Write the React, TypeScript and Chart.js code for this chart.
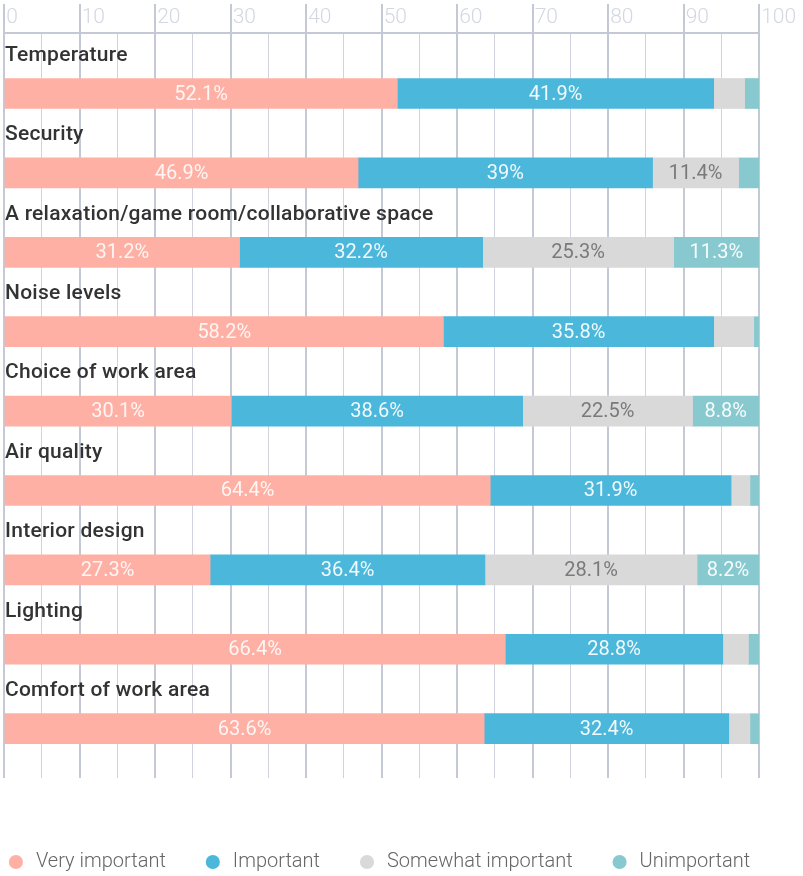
import { useEffect, useRef } from "react";
import { Chart, registerables } from "chart.js";

Chart.register(...registerables);

const categories = [
  "Temperature",
  "Security",
  "A relaxation/game room/collaborative space",
  "Noise levels",
  "Choice of work area",
  "Air quality",
  "Interior design",
  "Lighting",
  "Comfort of work area",
];
const seriesNames = ["Very important", "Important", "Somewhat important", "Unimportant"];
const veryImportant = [52.1, 46.9, 31.2, 58.2, 30.1, 64.4, 27.3, 66.4, 63.6];
const important = [41.9, 39, 32.2, 35.8, 38.6, 31.9, 36.4, 28.8, 32.4];
const somewhatImportant = [4.1, 11.4, 25.3, 5.3, 22.5, 2.5, 28.1, 3.4, 2.8];
const unimportant = [1.9, 2.7, 11.3, 0.7, 8.8, 1.2, 8.2, 1.4, 1.2];
const seriesColors = ["#FFB0A4", "#4BB7DB", "#D9D9D9", "#88C9CF"];
const labelColors = ["rgba(255,255,255,0.88)", "rgba(255,255,255,0.92)", "#7a7a7a", "rgba(255,255,255,0.92)"];
const minLabelValue = 8;

const gridMajor = "#c5c9d6";
const gridMinor = "#d0d3dd";

const valueLabelPlugin = {
  id: "valueLabels",
  afterDatasetsDraw(chart: any) {
    const ctx = chart.ctx;
    ctx.save();
    ctx.font = "400 20px Roboto";
    ctx.textAlign = "center";
    ctx.textBaseline = "middle";
    chart.data.datasets.forEach((ds: any, di: number) => {
      const meta = chart.getDatasetMeta(di);
      meta.data.forEach((el: any, i: number) => {
        const v = ds.data[i].x;
        if (v < minLabelValue) return;
        const p = el.getProps(["x", "y", "base"], true);
        ctx.fillStyle = labelColors[di];
        ctx.fillText(v + "%", (p.x + p.base) / 2, p.y + 1);
      });
    });
    ctx.restore();
  },
};

const categoryLabelPlugin = {
  id: "categoryLabels",
  afterDatasetsDraw(chart: any) {
    const ctx = chart.ctx;
    const yScale = chart.scales.y;
    ctx.save();
    ctx.font = "500 21px Roboto";
    if ("letterSpacing" in ctx) (ctx as any).letterSpacing = "0.25px";
    ctx.fillStyle = "#333333";
    ctx.textAlign = "left";
    ctx.textBaseline = "middle";
    categories.forEach((c, i) => {
      ctx.fillText(c, chart.chartArea.left + 1, yScale.getPixelForValue(i) - 38);
    });
    ctx.restore();
  },
};

export default function App() {
  const ref = useRef<HTMLCanvasElement>(null);
  useEffect(() => {
    document.body.style.margin = "0";
    const series = [veryImportant, important, somewhatImportant, unimportant];
    const chart = new Chart(ref.current!, {
      type: "bar",
      data: {
        datasets: series.map((vals, si) => ({
          label: seriesNames[si],
          data: vals.map((v, i) => ({ x: v, y: i })),
          backgroundColor: seriesColors[si],
          borderWidth: 0,
          barThickness: 30,
        })),
      },
      options: {
        indexAxis: "y",
        animation: false,
        responsive: true,
        maintainAspectRatio: false,
        layout: { padding: { top: 4, left: -67, right: -20, bottom: -6 } },
        scales: {
          x: {
            position: "top",
            stacked: true,
            min: 0,
            max: 100,
            grid: {
              color: (c: any) => (c.tick && c.tick.value % 10 === 0 ? gridMajor : gridMinor),
              lineWidth: (c: any) => (c.tick && c.tick.value % 10 === 0 ? 2 : 1),
              tickColor: (c: any) => (c.tick && c.tick.value % 10 === 0 ? gridMajor : "rgba(0,0,0,0)"),
              tickWidth: 2,
              tickLength: 29,
              drawTicks: true,
            },
            border: { display: true, color: gridMajor, width: 2 },
            ticks: {
              stepSize: 5,
              autoSkip: false,
              maxRotation: 0,
              align: "start",
              padding: -26,
              color: "#d3d7e1",
              font: { family: "Roboto", size: 21, weight: 300 },
              callback: (v: any) => (Number(v) % 10 === 0 ? "\u200A" + v : ""),
            },
            afterFit: (s: any) => {
              s.height = 29;
              s.paddingLeft = 4;
              s.paddingRight = 44;
              s.paddingTop = 0;
              s.paddingBottom = 0;
            },
          },
          y: {
            type: "linear",
            stacked: true,
            reverse: true,
            offset: false,
            min: -0.762,
            max: 8.621,
            display: false,
          },
        },
        plugins: {
          legend: {
            position: "bottom",
            title: { display: true, text: " ", font: { size: 10 }, padding: { top: 25, bottom: 0 } },
            labels: {
              usePointStyle: true,
              pointStyle: "circle",
              boxWidth: 30,
              boxHeight: 10,
              padding: 37,
              color: "#666666",
              font: { family: "Roboto", size: 20, weight: 300 },
            },
          },
          tooltip: { enabled: false },
        },
      },
      plugins: [valueLabelPlugin, categoryLabelPlugin],
    } as any);
    return () => chart.destroy();
  }, []);
  return (
    <div style={{ position: "relative", width: 803, height: 876 }}>
      <canvas ref={ref} />
    </div>
  );
}
